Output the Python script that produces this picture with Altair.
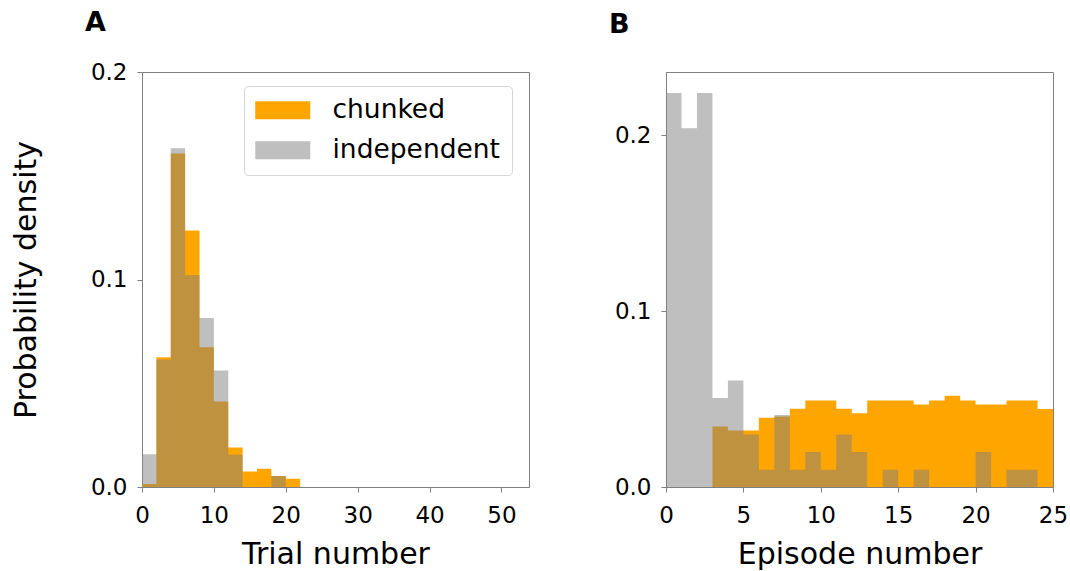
import altair as alt
import pandas as pd

# ---- data ----
series_names = ["chunked", "independent"]
series_colors = ["#FFA500", "#808080"]
series_opacity = [1.0, 0.5]

# Panel A: trial number histogram, bins of width 2 from 0 to 22
a_edges = [0, 2, 4, 6, 8, 10, 12, 14, 16, 18, 20, 22]
a_chunked = [0.0015, 0.0625, 0.1607, 0.1236, 0.0673, 0.0412, 0.0190, 0.0075, 0.0088, 0.0053, 0.0040]
a_independent = [0.0158, 0.0615, 0.1632, 0.1022, 0.0815, 0.0561, 0.0155, 0.0, 0.0, 0.0053, 0.0]

# Panel B: episode number histogram, bins of width 1 from 0 to 25
b_edges = list(range(0, 26))
b_chunked = [0.0, 0.0, 0.0, 0.0344, 0.0322, 0.0322, 0.0394, 0.0401, 0.0445, 0.0492,
             0.0492, 0.0445, 0.0420, 0.0492, 0.0492, 0.0492, 0.0469, 0.0492, 0.0519, 0.0492,
             0.0469, 0.0469, 0.0492, 0.0492, 0.0443]
b_independent = [0.224, 0.204, 0.224, 0.0506, 0.0606, 0.0299, 0.0098, 0.0410, 0.0098, 0.0199,
                 0.0098, 0.0299, 0.0199, 0.0, 0.0098, 0.0, 0.0098, 0.0, 0.0, 0.0,
                 0.0199, 0.0, 0.0098, 0.0098, 0.0]

a_ticks = [0, 10, 20, 30, 40, 50]
b_ticks = [0, 5, 10, 15, 20, 25]
a_yticks = [0.0, 0.1, 0.2]
b_yticks = [0.0, 0.1, 0.2]


def make_df(edges, chunked, indep):
    # one step outline per series: value of each bin at its left edge,
    # last bin's value repeated at the final edge
    rows = []
    for name, vals in zip(series_names, [chunked, indep]):
        for i, v in enumerate(vals):
            rows.append({"series": name, "edge": edges[i], "density": v})
        rows.append({"series": name, "edge": edges[len(vals)], "density": vals[-1]})
    return pd.DataFrame(rows)


df_a = make_df(a_edges, a_chunked, a_independent)
df_b = make_df(b_edges, b_chunked, b_independent)

FONT = "DejaVu Sans"
W, H = 387, 415

legend_a = alt.Legend(
    title=None,
    orient="none",
    legendX=102,
    legendY=14,
    labelFontSize=26.5,
    labelFont=FONT,
    labelColor="black",
    labelLimit=500,
    symbolType="M-1.3,-0.9H4.2V0.9H-1.3Z",
    symbolSize=400,
    symbolStrokeWidth=0,
    labelOffset=51,
    rowPadding=13,
    padding=11,
    strokeColor="#d6d6d6",
    fillColor="white",
    cornerRadius=4,
)


def panel(df, edges_domain, xticks, yticks, ydom, xtitle, ytitle, letter, legend, toff):
    color = alt.Color(
        "series:N",
        scale=alt.Scale(domain=series_names, range=series_colors),
        legend=legend,
    )
    opac = alt.Opacity(
        "series:N",
        scale=alt.Scale(domain=series_names, range=series_opacity),
        legend=legend,
    )
    return (
        alt.Chart(df)
        .mark_area(interpolate="step-after")
        .encode(
            x=alt.X(
                "edge:Q",
                scale=alt.Scale(domain=edges_domain, nice=False, zero=False),
                axis=alt.Axis(values=xticks, format="d", title=xtitle, labelFlush=False),
            ),
            y=alt.Y(
                "density:Q",
                stack=None,
                scale=alt.Scale(domain=ydom, nice=False),
                axis=alt.Axis(values=yticks, format=".1f", title=ytitle, labelFlush=False),
            ),
            color=color,
            opacity=opac,
        )
        .properties(
            width=W,
            height=H,
            title=alt.TitleParams(
                letter,
                anchor="start",
                frame="group",
                dx=-57,
                offset=toff,
                fontSize=27,
                fontWeight="bold",
                font=FONT,
                color="black",
            ),
        )
    )


chart_a = panel(df_a, [0, 53.84], a_ticks, a_yticks, [0, 0.2], "Trial number",
                "Probability density", "A", legend_a, 24)
chart_b = panel(df_b, [0, 25], b_ticks, b_yticks, [0, 0.236], "Episode number",
                None, "B", None, 33)

chart = (
    alt.hconcat(chart_a, chart_b, spacing=78)
    .resolve_scale(x="independent", y="independent", color="independent", opacity="independent")
    .properties(padding={"left": 10, "top": 8, "right": 0, "bottom": 0})
    .configure(font=FONT)
    .configure_view(stroke="#808080", strokeWidth=1)
    .configure_axis(
        grid=False,
        domainColor="#808080",
        tickColor="#808080",
        tickSize=5,
        labelFontSize=23,
        labelFont=FONT,
        labelColor="black",
        titleFontSize=30,
        titleFont=FONT,
        titleFontWeight="normal",
        titleColor="black",
    )
    .configure_axisX(labelPadding=12, titlePadding=12)
    .configure_axisY(labelPadding=10, titlePadding=49)
)

chart.save("out.html", embed_options={"renderer": "svg", "actions": False})
